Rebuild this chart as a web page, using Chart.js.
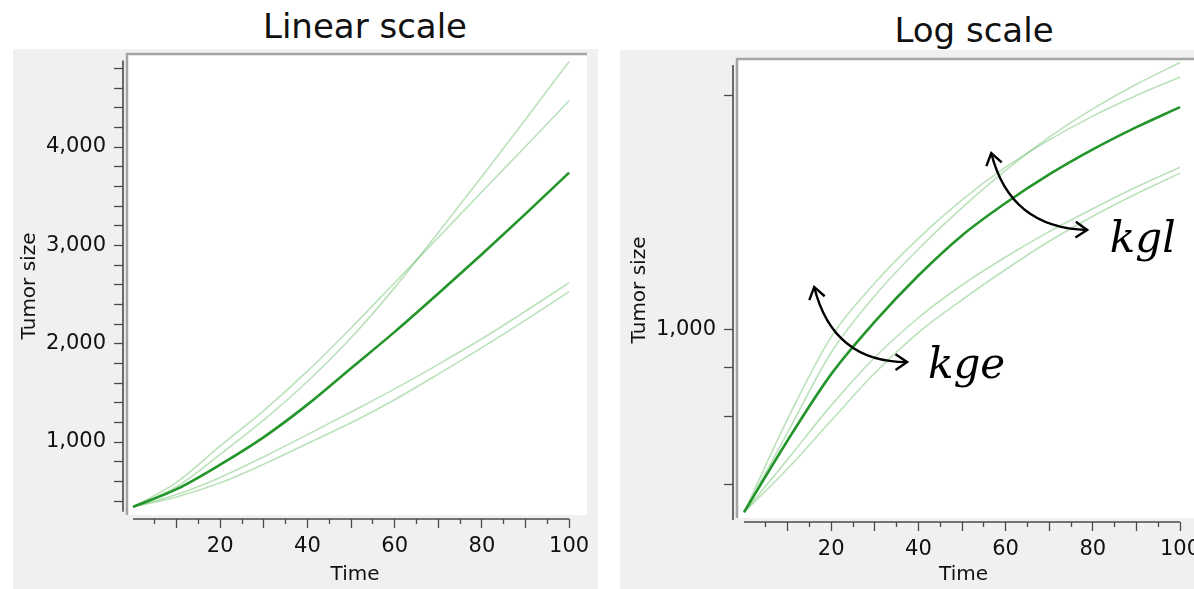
<!DOCTYPE html>
<html>
<head>
<meta charset="utf-8">
<title>Tumor size - linear and log scale</title>
<script src="https://cdn.jsdelivr.net/npm/chart.js@4.4.1/dist/chart.umd.min.js"></script>
<style>
    html, body { margin: 0; padding: 0; background: #fff; }
    body { width: 1194px; height: 589px; position: relative; overflow: hidden; font-family: 'DejaVu Sans', sans-serif; }
    .title { position: absolute; font-size: 34px; line-height: 34px; color: #111; white-space: nowrap; transform: translateX(-50%); }
    canvas { position: absolute; }
</style>
</head>
<body>
<div class="title" style="left:365px; top:9px">Linear scale</div>
<div class="title" style="left:974px; top:13px">Log scale</div>
<canvas id="linearChart" width="585" height="540" style="left:13px; top:49px"></canvas>
<canvas id="logChart" width="574" height="539" style="left:620px; top:50px"></canvas>

<script>
// values
const times = [0, 10, 20, 30, 40, 50, 60, 70, 80, 90, 100];
const sizeMain    = [340, 520, 770, 1050, 1380, 1750, 2120, 2510, 2910, 3320, 3740];
const sizeKgeHigh = [340, 590, 960, 1320, 1720, 2160, 2620, 3080, 3545, 4005, 4470];
const sizeKglHigh = [340, 545, 875, 1225, 1615, 2060, 2570, 3130, 3700, 4280, 4870];
const sizeKglLow  = [340, 465, 640, 850, 1075, 1305, 1540, 1790, 2050, 2330, 2620];
const sizeKgeLow  = [340, 440, 585, 775, 985, 1195, 1430, 1690, 1960, 2240, 2530];

const timeTicks = [5, 10, 15, 20, 25, 30, 35, 40, 45, 50, 55, 60, 65, 70, 75, 80, 85, 90, 95, 100];
const timeLabels = [20, 40, 60, 80, 100];
const linearSizeTicks = [400, 600, 800, 1000, 1200, 1400, 1600, 1800, 2000, 2200, 2400, 2600,
    2800, 3000, 3200, 3400, 3600, 3800, 4000, 4200, 4400, 4600, 4800];
const linearSizeLabels = [1000, 2000, 3000, 4000];
const logSizeTicks = [400, 600, 800, 1000, 4000];
const logSizeLabels = [1000];

// annotation anchors, in (time, size) units of the log chart
const arrowKge = { from: [16.1, 1290], ctrl: [20.4, 827], to: [37.4, 827], label: [42.2, 753], text: 'kge' };
const arrowKgl = { from: [56.7, 2850], ctrl: [61.0, 1830], to: [78.7, 1807], label: [83.9, 1587], text: 'kgl' };

const GREEN = '#23952b';
const PALE = 'rgba(60, 170, 60, 0.35)';
const AXIS = '#4a4a4a';

Chart.defaults.font.family = "'DejaVu Sans', sans-serif";
Chart.defaults.color = '#111';

const toPoints = values => times.map((t, i) => ({ x: t, y: values[i] }));

function seriesSet() {
    const pale = (label, values) => ({
        label, data: toPoints(values), borderColor: PALE, borderWidth: 1.6,
        pointRadius: 0, cubicInterpolationMode: 'monotone'
    });
    return [
        { label: 'Tumor size', data: toPoints(sizeMain), borderColor: GREEN, borderWidth: 2.6,
          pointRadius: 0, cubicInterpolationMode: 'monotone' },
        pale('kge +', sizeKgeHigh),
        pale('kgl +', sizeKglHigh),
        pale('kgl -', sizeKglLow),
        pale('kge -', sizeKgeLow)
    ];
}

// grey panel, white plot box and the offset axis lines
const plotFrame = {
    id: 'plotFrame',
    beforeDraw(chart, args, opts) {
        const { ctx, chartArea: a, width, height } = chart;
        ctx.save();
        ctx.fillStyle = '#f0f0f0';
        ctx.fillRect(0, 0, width, height);
        const left = a.left + opts.inset, bottom = a.bottom - opts.inset;
        ctx.fillStyle = '#fff';
        ctx.fillRect(left, a.top, a.right - left, bottom - a.top);
        ctx.strokeStyle = '#a4a4a4';
        ctx.lineWidth = 2.5;
        ctx.beginPath();
        ctx.moveTo(left, bottom);
        ctx.lineTo(left, a.top + 1);
        ctx.lineTo(a.right, a.top + 1);
        ctx.stroke();
        ctx.restore();
    },
    afterDraw(chart, args, opts) {
        const { ctx, chartArea: a, scales: { x, y } } = chart;
        ctx.save();
        ctx.strokeStyle = AXIS;
        ctx.lineWidth = 1.6;
        ctx.beginPath();
        ctx.moveTo(a.left, y.getPixelForValue(opts.yFrom));
        ctx.lineTo(a.left, y.getPixelForValue(opts.yTo));
        ctx.moveTo(x.getPixelForValue(times[0]), a.bottom);
        ctx.lineTo(x.getPixelForValue(times[times.length - 1]), a.bottom);
        ctx.stroke();
        ctx.restore();
    }
};

const curvedArrows = {
    id: 'curvedArrows',
    afterDatasetsDraw(chart, args, opts) {
        if (!opts.items) return;
        const { ctx, scales: { x, y } } = chart;
        const px = p => ({ x: x.getPixelForValue(p[0]), y: y.getPixelForValue(p[1]) });
        const head = (tip, back) => {
            const ang = Math.atan2(tip.y - back.y, tip.x - back.x);
            ctx.beginPath();
            ctx.moveTo(tip.x - 14 * Math.cos(ang - 0.6), tip.y - 14 * Math.sin(ang - 0.6));
            ctx.lineTo(tip.x, tip.y);
            ctx.lineTo(tip.x - 14 * Math.cos(ang + 0.6), tip.y - 14 * Math.sin(ang + 0.6));
            ctx.stroke();
        };
        ctx.save();
        ctx.strokeStyle = '#000';
        ctx.fillStyle = '#000';
        ctx.lineWidth = 2.4;
        opts.items.forEach(item => {
            const p0 = px(item.from), c = px(item.ctrl), p2 = px(item.to), t = px(item.label);
            ctx.beginPath();
            ctx.moveTo(p0.x, p0.y);
            ctx.quadraticCurveTo(c.x, c.y, p2.x, p2.y);
            ctx.stroke();
            head(p0, c);
            head(p2, c);
            ctx.font = "italic 42px 'DejaVu Serif', serif";
            ctx.textBaseline = 'alphabetic';
            ctx.fillText(item.text, t.x, t.y);
        });
        ctx.restore();
    }
};

function buildChart(canvasId, cfg) {
    const tickFont = { family: "'DejaVu Sans', sans-serif", size: 21 };
    const titleFont = { family: "'DejaVu Sans', sans-serif", size: 20 };
    return new Chart(document.getElementById(canvasId), {
        type: 'line',
        data: { datasets: seriesSet() },
        plugins: [plotFrame, curvedArrows],
        options: {
            responsive: false,
            animation: false,
            devicePixelRatio: 1,
            layout: { padding: { top: cfg.padTop, right: cfg.padRight, bottom: 0, left: 0 } },
            plugins: {
                legend: { display: false },
                tooltip: { enabled: false },
                plotFrame: { inset: 4, yFrom: cfg.axisFrom, yTo: cfg.axisTo },
                curvedArrows: { items: cfg.arrows }
            },
            scales: {
                x: {
                    type: 'linear',
                    position: 'bottom',
                    min: cfg.xMin,
                    max: cfg.xMax,
                    bounds: 'data',
                    afterBuildTicks: s => { s.ticks = timeTicks.map(v => ({ value: v })); },
                    afterFit: s => { s.height = cfg.xHeight; s.paddingLeft = 0; s.paddingRight = 0; },
                    border: { display: false },
                    grid: {
                        drawOnChartArea: false,
                        tickLength: 9,
                        tickWidth: 1.3,
                        tickColor: AXIS,
                        tickBorderDash: c => (c.tick && c.tick.value % 10 !== 0) ? [5, 30] : []
                    },
                    ticks: {
                        autoSkip: false,
                        maxRotation: 0,
                        padding: 6,
                        color: '#111',
                        font: tickFont,
                        callback: v => timeLabels.includes(v) ? String(v) : ''
                    },
                    title: { display: true, text: 'Time', color: '#111', font: titleFont, padding: { top: 0, bottom: 2 } }
                },
                y: {
                    type: cfg.yType,
                    min: cfg.yMin,
                    max: cfg.yMax,
                    bounds: 'data',
                    afterBuildTicks: s => { s.ticks = cfg.yTicks.map(v => ({ value: v })); },
                    afterFit: s => { s.width = cfg.yWidth; s.paddingTop = 0; s.paddingBottom = 0; },
                    border: { display: false },
                    grid: { drawOnChartArea: false, tickLength: 9, tickWidth: 1.3, tickColor: AXIS },
                    ticks: {
                        autoSkip: false,
                        padding: 8,
                        color: '#111',
                        font: tickFont,
                        callback: v => cfg.yLabels.includes(v) ? v.toLocaleString('en-US') : ''
                    },
                    title: { display: true, text: 'Tumor size', color: '#111', font: titleFont, padding: { top: cfg.yTitlePad, bottom: 0 } }
                }
            }
        }
    });
}

document.addEventListener('DOMContentLoaded', () => {
    buildChart('linearChart', {
        yType: 'linear', yMin: 217, yMax: 4956, yTicks: linearSizeTicks, yLabels: linearSizeLabels,
        axisFrom: 290, axisTo: 4880,
        xMin: -2.29, xMax: 104.1, xHeight: 70, yWidth: 110, padTop: 4, padRight: 11, yTitlePad: 5,
        arrows: null
    });
    buildChart('logChart', {
        yType: 'logarithmic', yMin: 321, yMax: 5000, yTicks: logSizeTicks, yLabels: logSizeLabels,
        axisFrom: 325, axisTo: 4800,
        xMin: -2.52, xMax: 103.2, xHeight: 67, yWidth: 113, padTop: 8, padRight: 0, yTitlePad: 8,
        arrows: [arrowKge, arrowKgl]
    });
});
</script>
</body>
</html>
